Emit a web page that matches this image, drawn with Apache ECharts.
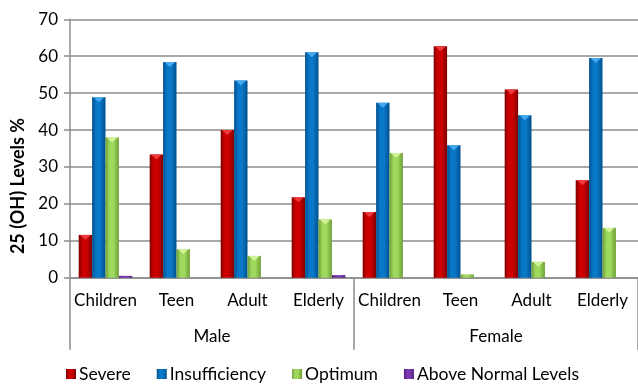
<!DOCTYPE html>
<html>
<head>
<meta charset="utf-8">
<script src="https://cdn.jsdelivr.net/npm/echarts@6/dist/echarts.min.js"></script>
<style>html,body{margin:0;padding:0;background:#fff;}#chart{width:638px;height:384px;}</style>
</head>
<body>
<div id="chart"></div>
<script>
const categories = ['Children', 'Teen', 'Adult', 'Elderly', 'Children', 'Teen', 'Adult', 'Elderly'];
const groups = ['Male', 'Female'];
const seriesNames = ['Severe', 'Insufficiency', 'Optimum', 'Above Normal Levels'];
const severe = [11.6, 33.4, 40.0, 21.8, 17.8, 62.7, 51.0, 26.4];
const insufficiency = [48.9, 58.4, 53.4, 61.1, 47.4, 35.9, 44.0, 59.5];
const optimum = [38.0, 7.7, 5.9, 15.8, 33.8, 0.9, 4.3, 13.5];
const aboveNormal = [0.5, 0, 0, 0.7, 0, 0, 0, 0];
const yTicks = [0, 10, 20, 30, 40, 50, 60, 70];

const FONT = 'Lato';
const GRAY = '#8c8c8c';
const palettes = [
  { edge: '#7e0000', mid: '#cc0000', cap: '#ee3a3a' },
  { edge: '#004f8c', mid: '#0a78c8', cap: '#45a8ee' },
  { edge: '#6e9e36', mid: '#9ed85c', cap: '#d2f29a' },
  { edge: '#4f1f7a', mid: '#7a38b0', cap: '#a070d0' }
];
const valueSets = [severe, insufficiency, optimum, aboveNormal];

function grad(p) {
  return new echarts.graphic.LinearGradient(0, 0, 1, 0, [
    { offset: 0, color: p.edge },
    { offset: 0.3, color: p.mid },
    { offset: 0.6, color: p.mid },
    { offset: 1, color: p.edge }
  ]);
}

const series = [];
valueSets.forEach((vals, i) => {
  series.push({
    name: seriesNames[i],
    type: 'bar',
    data: vals,
    barGap: '0%',
    barCategoryGap: '24.5%',
    itemStyle: { color: grad(palettes[i]) },
    emphasis: { disabled: true }
  });
});
valueSets.forEach((vals, i) => {
  series.push({
    name: seriesNames[i] + ' cap',
    type: 'pictorialBar',
    data: vals.map(v => (v >= 2 && i < 3) ? v : '-'),
    barGap: '0%',
    barCategoryGap: '24.5%',
    symbol: 'triangle',
    symbolRotate: 180,
    symbolSize: ['80%', 5],
    symbolPosition: 'end',
    symbolOffset: [0, 0],
    itemStyle: { color: palettes[i].cap },
    z: 5,
    silent: true
  });
});

const chart = echarts.init(document.getElementById('chart'));
chart.setOption({
  animation: false,
  backgroundColor: '#fff',
  textStyle: { fontFamily: FONT },
  grid: { left: 70, right: 0, top: 19.3, bottom: 106.3, containLabel: false },
  legend: {
    data: seriesNames,
    left: 61,
    top: 360,
    itemWidth: 10,
    itemHeight: 10,
    itemGap: 26,
    icon: 'rect',
    textStyle: { fontFamily: FONT, fontSize: 17.5, color: '#000', padding: [0, 0, 0, -2] }
  },
  xAxis: [
    {
      type: 'category',
      data: categories,
      axisLine: { show: true, lineStyle: { color: GRAY, width: 1.5 } },
      axisTick: { show: false },
      axisLabel: { color: '#000', fontFamily: FONT, fontSize: 17, margin: 14, interval: 0 }
    },
    {
      type: 'category',
      data: groups,
      position: 'bottom',
      axisLine: { show: false },
      axisTick: { show: true, length: 72, lineStyle: { color: GRAY, width: 1.5 } },
      axisLabel: { color: '#000', fontFamily: FONT, fontSize: 17, margin: 50, interval: 0 }
    }
  ],
  yAxis: {
    type: 'value',
    min: 0,
    max: 70,
    interval: 10,
    axisLine: { show: true, lineStyle: { color: GRAY, width: 1.5 } },
    axisTick: { show: true, length: 6, lineStyle: { color: GRAY, width: 1.5 } },
    splitLine: { show: true, lineStyle: { color: GRAY, width: 1.5 } },
    axisLabel: {
      color: '#000', fontFamily: FONT, fontSize: 17, margin: 12,
      formatter: v => (yTicks.indexOf(v) >= 0 ? String(v) : '')
    }
  },
  graphic: [{
    type: 'text',
    x: 18,
    y: 186,
    rotation: Math.PI / 2,
    style: {
      text: '25 (OH) Levels %',
      fontFamily: FONT,
      fontSize: 18,
      fontWeight: 'bold',
      fill: '#000',
      textAlign: 'center',
      textVerticalAlign: 'middle'
    }
  }],
  series: series
});
</script>
</body>
</html>
